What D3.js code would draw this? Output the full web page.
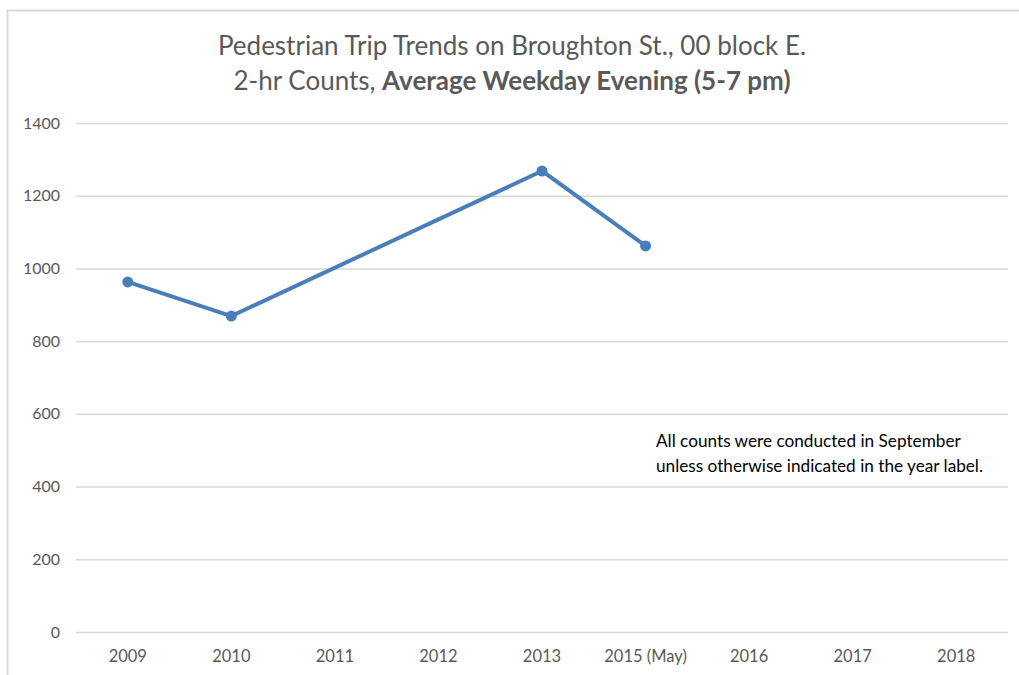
<!DOCTYPE html>
<html lang="en">
<head>
  <meta charset="utf-8">
  <script src="https://d3js.org/d3.v7.min.js"></script>
  <style>
    body { margin: 0; background: #fff; }
    text { font-family: Lato, "Open Sans", sans-serif; }
  </style>
</head>
<body>
  <div id='chart'></div>
  <script>
  const width = 1019
  const height = 675

  // data
  const years = ["2009", "2010", "2011", "2012", "2013", "2015 (May)", "2016", "2017", "2018"]
  const counts = [963, 869, null, null, 1268, 1062, null, null, null]
  const yTicks = [0, 200, 400, 600, 800, 1000, 1200, 1400]
  const note = ["All counts were conducted in September", "unless otherwise indicated in the year label."]

  const svg = d3.select('#chart').append('svg')
      .attr('width', width)
      .attr('height', height)

  // chart border (runs off the right and bottom)
  svg.append('rect')
      .attr('x', 7.5).attr('y', 10.5)
      .attr('width', 1030).attr('height', 700)
      .attr('fill', 'none')
      .attr('stroke', '#d9d9d9')
      .attr('stroke-width', 2)

  const plot = {left: 76, right: 1008, top: 123, bottom: 632}

  const x = d3.scaleBand()
      .domain(years)
      .range([plot.left, plot.right])

  const y = d3.scaleLinear()
      .domain([0, 1400])
      .range([plot.bottom, plot.top])

  ////////////////////// gridlines + y labels //////////////////////
  const yAxis = svg.append('g')
      .attr('transform', `translate(${plot.left},0)`)
      .call(d3.axisLeft(y).tickValues(yTicks).tickFormat(d3.format('d'))
        .tickSize(-(plot.right - plot.left)).tickPadding(16))
  yAxis.select('.domain').remove()
  yAxis.selectAll('.tick line').attr('stroke', '#d9d9d9').attr('stroke-width', 1.5)
  yAxis.selectAll('.tick text')
      .attr('fill', '#595959')
      .style('font-size', '16px')
      .style('font-family', 'Lato, "Open Sans", sans-serif')

  ////////////////////// x labels //////////////////////
  const xAxis = svg.append('g')
      .attr('transform', `translate(0,${plot.bottom})`)
      .call(d3.axisBottom(x).tickSize(0).tickPadding(18))
  xAxis.select('.domain').remove()
  xAxis.selectAll('.tick text')
      .attr('fill', '#595959')
      .style('font-size', '16.5px')
      .style('font-family', 'Lato, "Open Sans", sans-serif')

  ////////////////////// line + markers //////////////////////
  const pts = years.map((d, i) => ({year: d, v: counts[i]})).filter(d => d.v != null)

  const line = d3.line()
      .x(d => x(d.year) + x.bandwidth() / 2)
      .y(d => y(d.v))

  svg.append('path')
      .datum(pts)
      .attr('d', line)
      .attr('fill', 'none')
      .attr('stroke', '#4a7ebb')
      .attr('stroke-width', 4)
      .attr('stroke-linejoin', 'round')

  svg.selectAll('circle.pt')
      .data(pts)
      .enter().append('circle')
      .attr('class', 'pt')
      .attr('cx', d => x(d.year) + x.bandwidth() / 2)
      .attr('cy', d => y(d.v))
      .attr('r', 5.5)
      .attr('fill', '#4a7ebb')

  ////////////////////// title //////////////////////
  const title = svg.append('text')
      .attr('x', 512)
      .attr('text-anchor', 'middle')
      .attr('fill', '#595959')
      .style('font-size', '26px')
  title.append('tspan').attr('x', 512).attr('y', 55)
      .text('Pedestrian Trip Trends on Broughton St., 00 block E.')
  const t2 = title.append('tspan').attr('x', 512).attr('y', 90)
  t2.append('tspan').text('2-hr Counts, ')
  t2.append('tspan').attr('font-weight', 'bold').text('Average Weekday Evening (5-7 pm)')

  ////////////////////// note //////////////////////
  svg.append('g').selectAll('text')
      .data(note)
      .enter().append('text')
      .attr('x', 656)
      .attr('y', (d, i) => 447 + i * 25)
      .attr('fill', '#000')
      .style('font-size', '17.2px')
      .text(d => d)
  </script>
</body>
</html>
